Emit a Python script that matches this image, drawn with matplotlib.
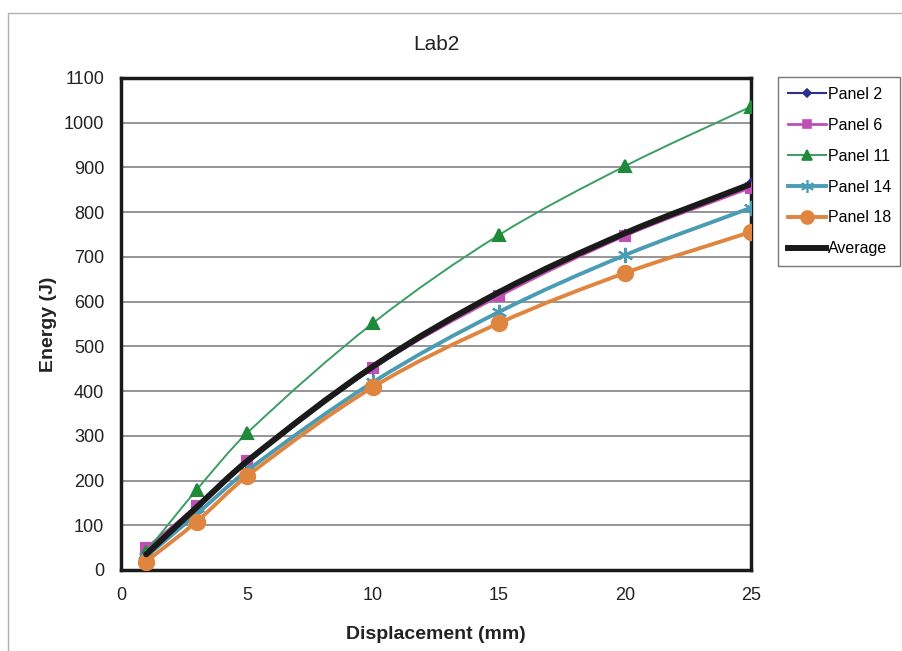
import numpy as np
import matplotlib
matplotlib.use("Agg")
import matplotlib.pyplot as plt
from matplotlib.path import Path
from matplotlib.patches import PathPatch, Rectangle
from matplotlib.lines import Line2D

plt.rcParams['font.family'] = ['Liberation Sans', 'DejaVu Sans']

# data
displacement = [1, 3, 5, 10, 15, 20, 25]
panel2 = [38, 140, 240, 450, 615, 750, 862]
panel6 = [49, 143, 244, 452, 612, 747, 855]
panel11 = [41, 179, 306, 552, 749, 903, 1036]
panel14 = [30, 125, 222, 420, 577, 704, 810]
panel18 = [19, 108, 210, 409, 552, 664, 756]
average = [35, 140, 243, 455, 621, 753, 863]

series_names = ['Panel 2', 'Panel 6', 'Panel 11', 'Panel 14', 'Panel 18', 'Average']
series_values = [panel2, panel6, panel11, panel14, panel18, average]

# style per series: colour, line width, marker, marker size, marker colour
styles = [
    ('#2b2f8f', 1.5, 'D', 5, '#2b2f8f'),
    ('#c04fb5', 2.0, 's', 7, '#c04fb5'),
    ('#3a9e62', 1.4, '^', 8, '#1e8a3a'),
    ('#4a9cb4', 2.8, (6, 2, 0), 11, '#4a9cb4'),
    ('#df853f', 2.8, 'o', 11, '#df853f'),
    ('#1a1a1a', 4.3, None, 0, '#1a1a1a'),
]


def smooth_path(x, y):
    # smoothed line: cubic hermite/bezier through the points
    x = np.asarray(x, float)
    y = np.asarray(y, float)
    n = len(x)
    m = np.zeros(n)
    for i in range(n):
        if i == 0:
            m[i] = (y[1] - y[0]) / (x[1] - x[0])
        elif i == n - 1:
            m[i] = (y[-1] - y[-2]) / (x[-1] - x[-2])
        else:
            m[i] = (y[i + 1] - y[i - 1]) / (x[i + 1] - x[i - 1])
    verts = [(x[0], y[0])]
    codes = [Path.MOVETO]
    for i in range(n - 1):
        h = (x[i + 1] - x[i]) / 3
        verts += [(x[i] + h, y[i] + h * m[i]), (x[i + 1] - h, y[i + 1] - h * m[i + 1]), (x[i + 1], y[i + 1])]
        codes += [Path.CURVE4] * 3
    return Path(verts, codes)


fig = plt.figure(figsize=(9.03, 6.51), dpi=100)
ax = fig.add_axes([121 / 903, 1 - 570 / 651, 630 / 903, 492 / 651])

# outer chart border
fig.patches.append(Rectangle((8 / 903, -0.1), 1.2, 1 - 13 / 651 + 0.1, transform=fig.transFigure,
                             fill=False, edgecolor='#b0b0b0', linewidth=1.0))

handles = []
for k, (name, vals) in enumerate(zip(series_names, series_values)):
    color, lw, mk, ms, mc = styles[k]
    patch = PathPatch(smooth_path(displacement, vals), facecolor='none', edgecolor=color,
                      linewidth=lw, zorder=3 + k, capstyle='round', joinstyle='round')
    ax.add_patch(patch)
    if mk is not None:
        ax.plot(displacement, vals, linestyle='none', marker=mk, markersize=ms,
                color=mc, markeredgecolor=mc, markeredgewidth=1.5, zorder=3 + k)
    handles.append(Line2D([], [], color=color, linewidth=lw, marker=mk, markersize=ms * 0.85,
                          markerfacecolor=mc, markeredgecolor=mc, markeredgewidth=1.2))

ax.set_xlim(0, 25)
ax.set_ylim(0, 1100)
ax.set_xticks(range(0, 26, 5))
ax.set_yticks(range(0, 1101, 100))
ax.tick_params(length=0, labelsize=13, colors='#222222')
ax.tick_params(axis='y', pad=12)
ax.tick_params(axis='x', pad=12)
ax.yaxis.grid(True, color='#8c8c8c', linewidth=1.3)
ax.set_axisbelow(True)
for sp in ax.spines.values():
    sp.set_linewidth(2.5)
    sp.set_color('#1a1a1a')

ax.set_title('Lab2', fontsize=15, pad=20, color='#222222')
ax.set_xlabel('Displacement (mm)', fontsize=14, fontweight='bold', labelpad=16, color='#222222')
ax.set_ylabel('Energy (J)', fontsize=14, fontweight='bold', labelpad=5, color='#222222')

leg = fig.legend(handles, series_names, loc='upper left', bbox_to_anchor=(778 / 903, 1 - 77 / 651),
                 fontsize=11.5, frameon=True, fancybox=False, handlelength=2.4, handletextpad=0.1,
                 labelspacing=1.0, borderpad=0.6, borderaxespad=0)
leg.get_frame().set_edgecolor('#555555')
leg.get_frame().set_linewidth(1.0)

fig.savefig('out.png', dpi=100)
